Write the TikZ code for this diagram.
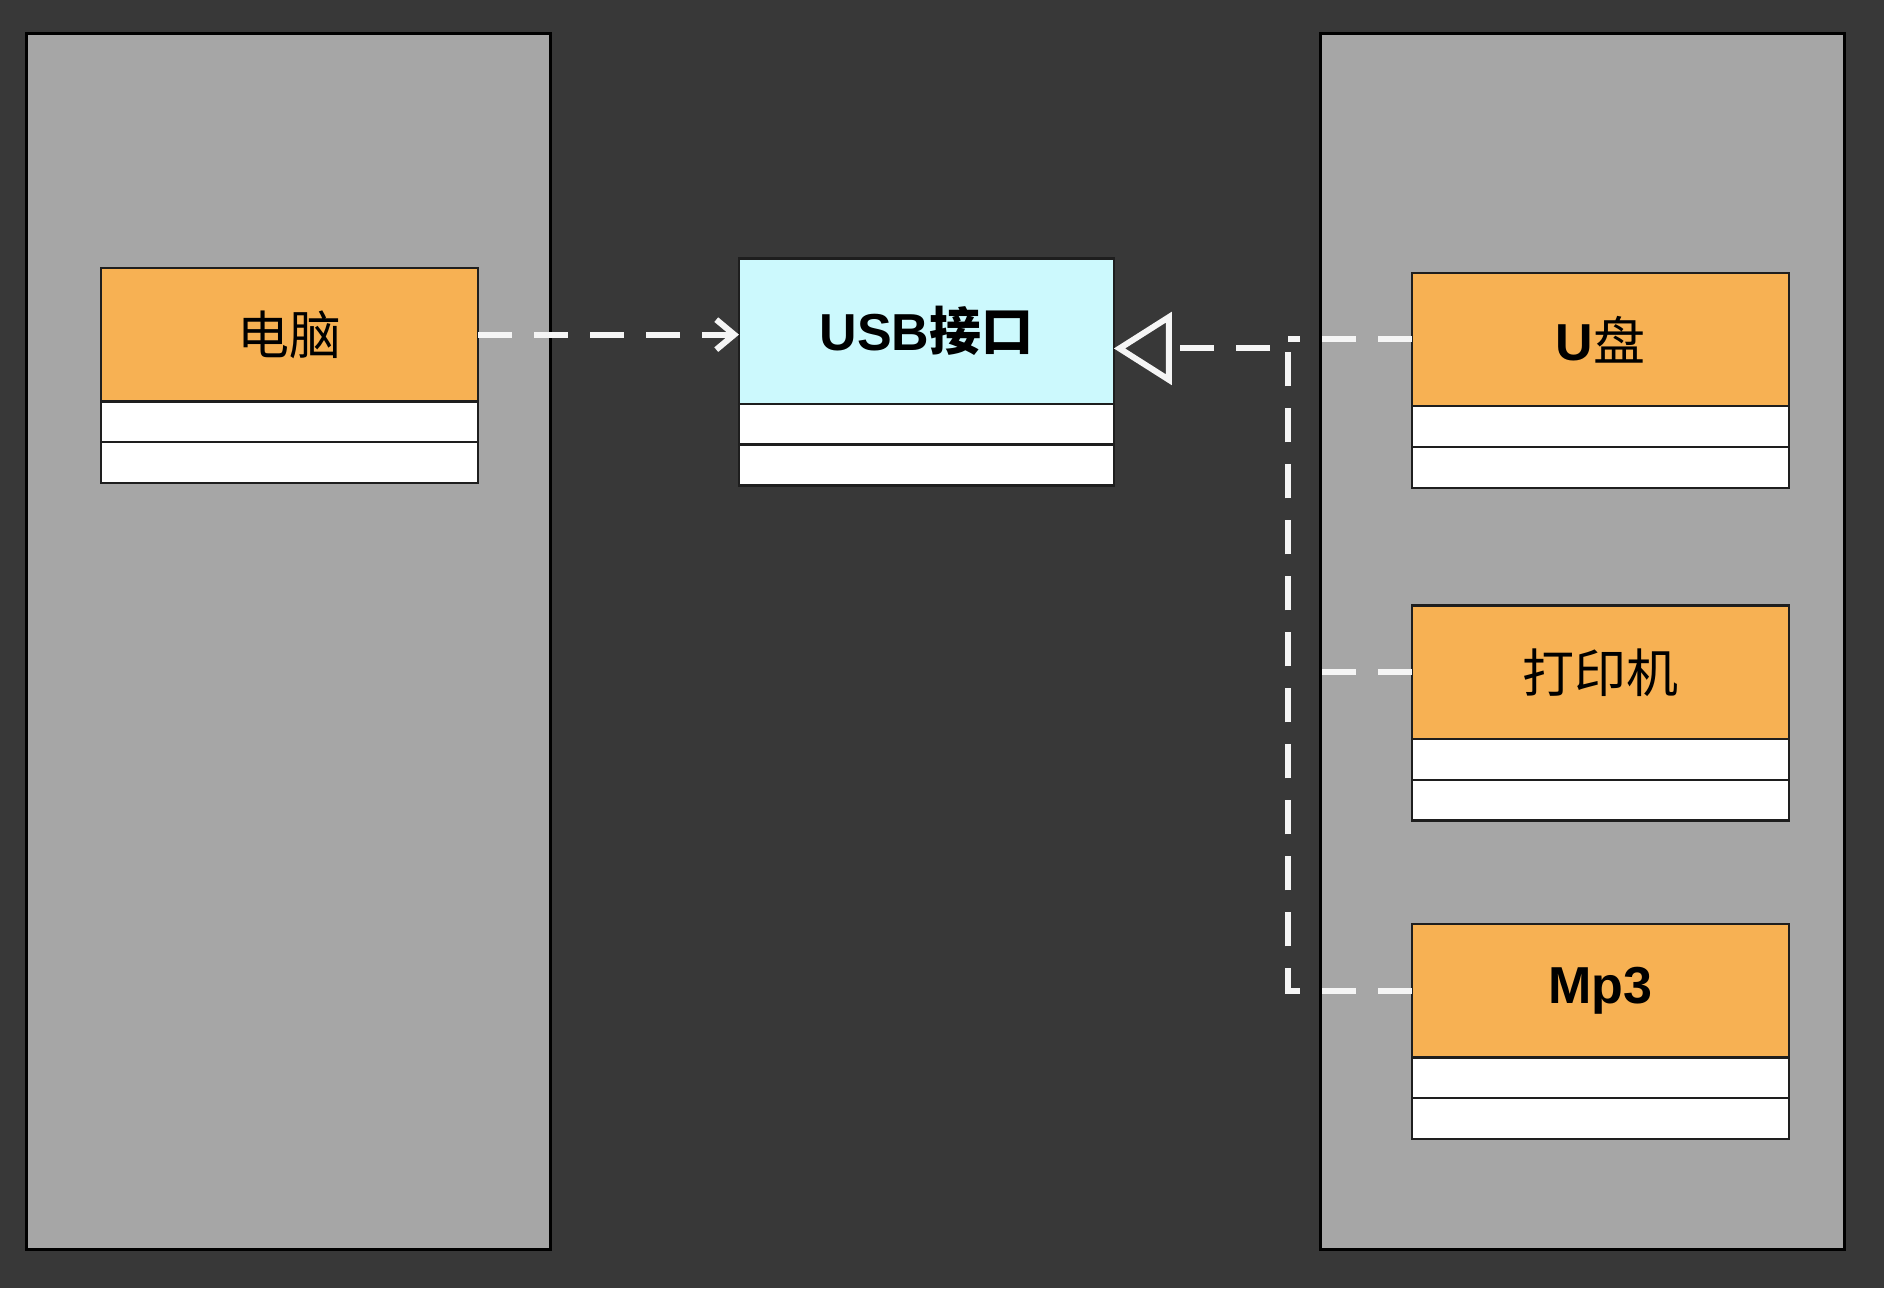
\documentclass[tikz,border=0pt]{standalone}
\usepackage{fontspec}
\setmainfont{Liberation Sans}
\newfontfamily\cjk{Noto Sans CJK SC}
\usetikzlibrary{arrows.meta}
\definecolor{bgdark}{RGB}{56,56,56}
\definecolor{panelgray}{RGB}{166,166,166}
\definecolor{boxorange}{RGB}{247,177,83}
\definecolor{boxcyan}{RGB}{204,249,253}
\definecolor{edge}{RGB}{30,30,30}
\definecolor{dashwhite}{RGB}{245,245,245}
\begin{document}
\begin{tikzpicture}[x=0.6008pt,y=-0.6008pt,
  panel/.style={draw=black, fill=panelgray, line width=1.4pt, anchor=north west, inner sep=0pt, outer sep=0pt,
    minimum width={436*0.6008pt}, minimum height={1012*0.6008pt}},
  hdr/.style={draw=edge, line width=1.2pt, anchor=north west, inner sep=0pt, outer sep=0pt,
    minimum width={314*0.6008pt}, minimum height={111*0.6008pt},
    font=\fontsize{26}{30}\selectfont},
  rowbox/.style={draw=edge, fill=white, line width=1.2pt, anchor=north west, inner sep=0pt, outer sep=0pt,
    minimum width={314*0.6008pt}, minimum height={34*0.6008pt}},
  dashline/.style={draw=dashwhite, line width=3pt, dash pattern=on 17pt off 11pt},
]
\useasboundingbox (0,0) rectangle (1568,1072);
\fill[bgdark] (0,0) rectangle (1568,1072);

% panels
\node[panel] (lp) at (22,28) {};
\node[panel] (rp) at (1099,28) {};

% class boxes
\node[hdr, fill=boxorange] (pc) at (84,223) {\cjk 电脑};
\node[rowbox] (pc1) at (pc.south west) {};
\node[rowbox] (pc2) at (pc1.south west) {};

\node[hdr, fill=boxcyan, minimum width={312*0.6008pt}, minimum height={121*0.6008pt}] (usb) at (615,215) {\bfseries USB\cjk 接口};
\node[rowbox, minimum width={312*0.6008pt}] (usb1) at (usb.south west) {};
\node[rowbox, minimum width={312*0.6008pt}] (usb2) at (usb1.south west) {};

\node[hdr, fill=boxorange] (ud) at (1175,227) {\bfseries U\mdseries\cjk 盘};
\node[rowbox] (ud1) at (ud.south west) {};
\node[rowbox] (ud2) at (ud1.south west) {};

\node[hdr, fill=boxorange] (pr) at (1175,504) {\cjk 打印机};
\node[rowbox] (pr1) at (pr.south west) {};
\node[rowbox] (pr2) at (pr1.south west) {};

\node[hdr, fill=boxorange] (mp) at (1175,769) {\bfseries Mp3};
\node[rowbox] (mp1) at (mp.south west) {};
\node[rowbox] (mp2) at (mp1.south west) {};

% junction coordinates
\coordinate (jT) at (1072,290);
\coordinate (jU) at (1072,283);
\coordinate (jP) at (1087,558);
\coordinate (jM) at (1072,824);

% dependency: computer -> USB
\draw[dashline, -{Straight Barb[length=9pt,width=15pt]}] (pc.east) -- (usb.west |- pc.east);

% realization lines
\draw[dashline] (ud.west) -- (ud.west -| jU);
\draw[dashline] (pr.west) -- (pr.west -| jP);
\draw[dashline, -{Triangle[open,length=29pt,width=36pt]}] (mp.west) -- (mp.west -| jM) -- (jT) -- (usb.east |- jT);
\end{tikzpicture}
\end{document}
